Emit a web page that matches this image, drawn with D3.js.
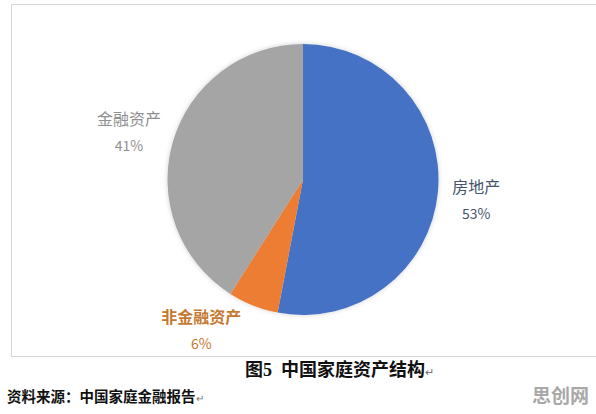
<!DOCTYPE html>
<meta charset="utf-8">
<script src="https://d3js.org/d3.v7.min.js"></script>
<style>
body { margin: 0; background: #fff; }
text { font-family: "Noto Sans CJK SC", "Noto Sans", sans-serif; }
</style>
<div id="chart"></div>
<script>
// data
var categories = ["房地产", "非金融资产", "金融资产"];
var values = [53, 6, 41];
var percentLabels = ["53%", "6%", "41%"];
var captionText = "图5\u00a0\u00a0中国家庭资产结构";
var sourceText = "资料来源：中国家庭金融报告";
var watermarkText = "思创网";

var width = 596, height = 414;
var cx = 303, cy = 179.5, radius = 135.5;

var svg = d3.select("#chart")
  .append("svg")
    .attr("width", width)
    .attr("height", height);

var defs = svg.append("defs");
var f = defs.append("filter").attr("id", "glow")
  .attr("x", "-10%").attr("y", "-10%").attr("width", "120%").attr("height", "120%");
f.append("feGaussianBlur").attr("in", "SourceAlpha").attr("stdDeviation", 2.5).attr("result", "b");
f.append("feFlood").attr("flood-color", "#000").attr("flood-opacity", 0.18);
f.append("feComposite").attr("in2", "b").attr("operator", "in").attr("result", "s");
var m = f.append("feMerge");
m.append("feMergeNode").attr("in", "s");
m.append("feMergeNode").attr("in", "SourceGraphic");

// chart frame
svg.append("rect")
  .attr("x", 11.5).attr("y", 4.5)
  .attr("width", 600).attr("height", 352)
  .attr("fill", "#fff")
  .attr("stroke", "#d6d6d6")
  .attr("stroke-width", 1);

var color = d3.scaleOrdinal()
  .domain(categories)
  .range(["#4472c4", "#ed7d31", "#a5a5a5"]);
var labelColor = d3.scaleOrdinal()
  .domain(categories)
  .range(["#44546a", "#c5782f", "#8f8f8f"]);

var pie = d3.pie().sort(null).value(function(d) { return d.value; });
var data = categories.map(function(c, i) {
  return { name: c, value: values[i], pct: percentLabels[i] };
});
var arcs = pie(data);

var arc = d3.arc().innerRadius(0).outerRadius(radius);
var labelArc = d3.arc().innerRadius(176).outerRadius(176);

var g = svg.append("g").attr("transform", "translate(" + cx + "," + cy + ")");

g.append("g").attr("filter", "url(#glow)")
  .selectAll("path")
  .data(arcs)
  .enter()
  .append("path")
    .attr("d", arc)
    .attr("fill", function(d) { return color(d.data.name); });

// small nudges like the Excel label placement
var nudge = { "房地产": [-2, 4], "非金融资产": [-37, -13], "金融资产": [-5, 2] };

var labels = g.selectAll(".lbl")
  .data(arcs)
  .enter()
  .append("g")
    .attr("class", "lbl")
    .attr("transform", function(d) {
      var p = labelArc.centroid(d), n = nudge[d.data.name];
      return "translate(" + (p[0] + n[0]) + "," + (p[1] + n[1]) + ")";
    });

labels.append("text")
  .attr("text-anchor", "middle")
  .attr("y", -7)
  .style("font-size", "16px")
  .style("font-weight", function(d) { return d.data.name === "非金融资产" ? "bold" : "normal"; })
  .style("fill", function(d) { return labelColor(d.data.name); })
  .text(function(d) { return d.data.name; });

labels.append("text")
  .attr("text-anchor", "middle")
  .attr("y", 19)
  .style("font-size", "14px")
  .style("fill", function(d) { return labelColor(d.data.name); })
  .text(function(d) { return d.data.pct; });

// caption
var cap = svg.append("text")
  .attr("x", 245)
  .attr("y", 376)
  .style("font-size", "18px")
  .style("font-weight", "bold")
  .style("fill", "#111")
  .style("font-family", "'Liberation Serif', 'Noto Sans CJK SC', serif");
cap.append("tspan").text(captionText);
cap.append("tspan").style("font-size", "11px").style("font-weight", "normal").style("fill", "#777").text("↵");

var src = svg.append("text")
  .attr("x", 7)
  .attr("y", 402)
  .style("font-size", "14.5px")
  .style("font-weight", "bold")
  .style("fill", "#111");
src.append("tspan").text(sourceText);
src.append("tspan").style("font-size", "10px").style("font-weight", "normal").style("fill", "#777").text("↵");

svg.append("text")
  .attr("x", 589)
  .attr("y", 403)
  .attr("text-anchor", "end")
  .style("font-size", "19px")
  .style("font-weight", "bold")
  .style("fill", "#a8a8a8")
  .text(watermarkText);
</script>
